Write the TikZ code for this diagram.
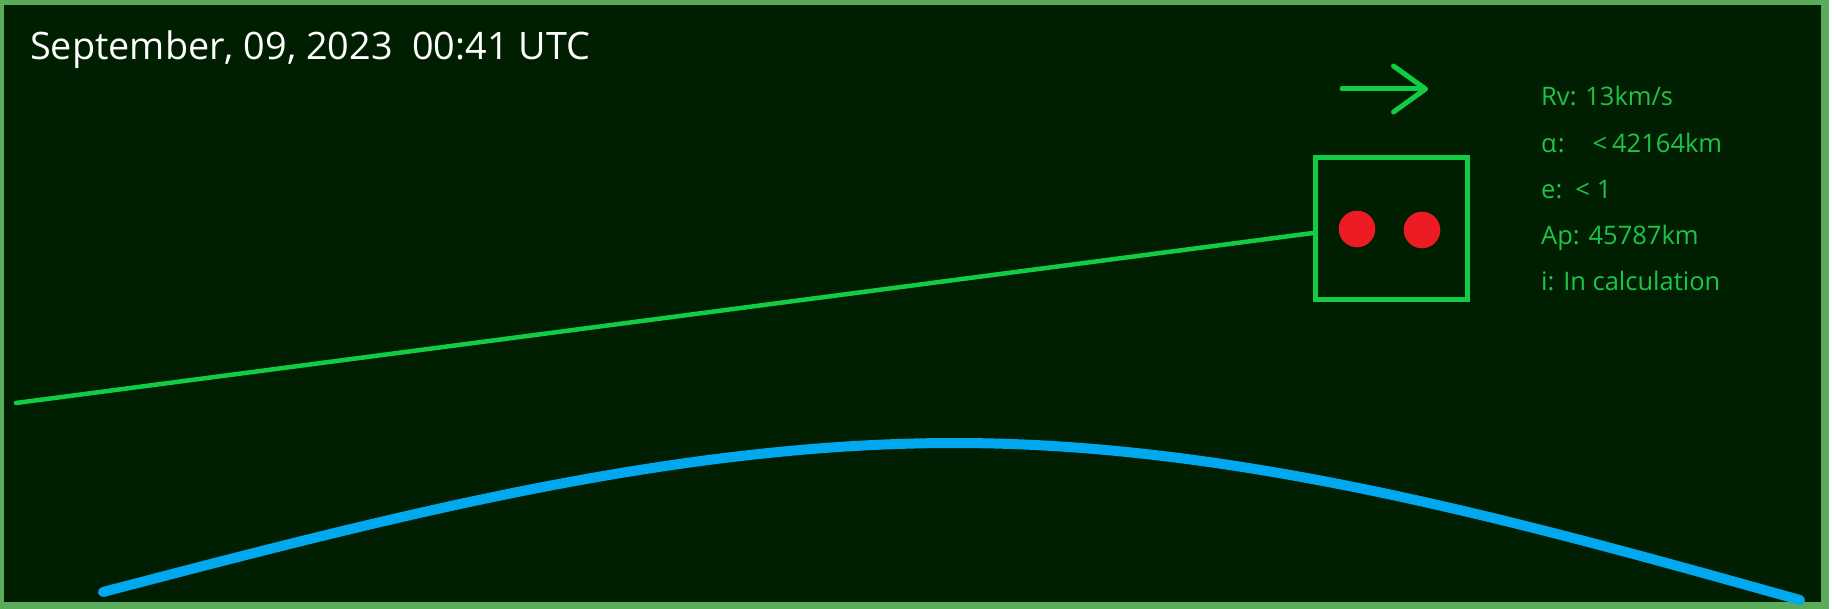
\documentclass[tikz,border=0pt]{standalone}
\usepackage{fontspec}
\setmainfont{Open Sans}
\usetikzlibrary{positioning, arrows.meta}
\definecolor{spacebg}{RGB}{0,31,0}
\definecolor{framegreen}{RGB}{90,172,90}
\definecolor{trackgreen}{RGB}{18,204,68}
\definecolor{infogreen}{RGB}{30,196,72}
\definecolor{earthblue}{RGB}{0,168,240}
\definecolor{dotred}{RGB}{237,28,36}

\begin{document}
\begin{tikzpicture}[x=1pt, y=-1pt,
    info/.style={anchor=base west, text=infogreen, inner sep=0pt, font=\fontsize{25.5}{30}\selectfont},
    track/.style={draw=trackgreen, line width=4.5pt, line cap=round},
    satbox/.style={draw=trackgreen, line width=5pt, rectangle, inner sep=0pt, minimum width=152pt, minimum height=142pt},
    object/.style={circle, fill=dotred, inner sep=0pt, minimum size=36.6pt},
    orbit/.style={draw=earthblue, line width=10pt, line cap=round}]

    % Frame and background
    \fill[white] (0,0) rectangle (1834,609);
    \fill[framegreen] (0,0) rectangle (1829,609);
    \fill[spacebg] (4,5) rectangle (1821,602);
    \useasboundingbox (0,0) rectangle (1834,609);

    % Date
    \node[anchor=base west, text=white, inner sep=0pt, font=\fontsize{37.8}{45}\selectfont] (title) at (30,60) {September, 09, 2023~~00:41 UTC};

    % Tracked object
    \node[satbox] (sat) at (1391.5,228.5) {};
    \node[object] (objA) at (1357,229) {};
    \node[object] (objB) at (1422,230) {};

    % Ground track
    \coordinate (tail) at (16,403);
    \draw[track] (tail) -- ([yshift=-4.5pt]sat.west);

    % Direction
    \coordinate (vtail) at (1342,89);
    \coordinate (vhead) at (1428,89);
    \draw[trackgreen, line width=5pt, line cap=round, -{Straight Barb[length=32pt, width=46pt, round]}] (vtail) -- (vhead);

    % Orbit data
    \node[info] (rv) at (1541,106) {Rv: 13km/s};
    \node[info] (alpha) at (1541,153) {α\kern1pt:\hspace{28pt}<\kern5pt42164km};
    \node[info] (ecc) at (1541,199) {e:\hspace{13pt}<\kern7pt1};
    \node[info] (apo) at (1541,245) {Ap: 45787km};
    \node[info] (incl) at (1541,291) {i: In calculation};

    % Earth limb
    \coordinate (limbL) at (103,592);
    \coordinate (limbT) at (955,443);
    \coordinate (limbR) at (1800,600);
    \draw[orbit] (limbL) .. controls (387,518) and (671,443) .. (limbT)
                         .. controls (1237,443) and (1518,521) .. (limbR);

\end{tikzpicture}
\end{document}
